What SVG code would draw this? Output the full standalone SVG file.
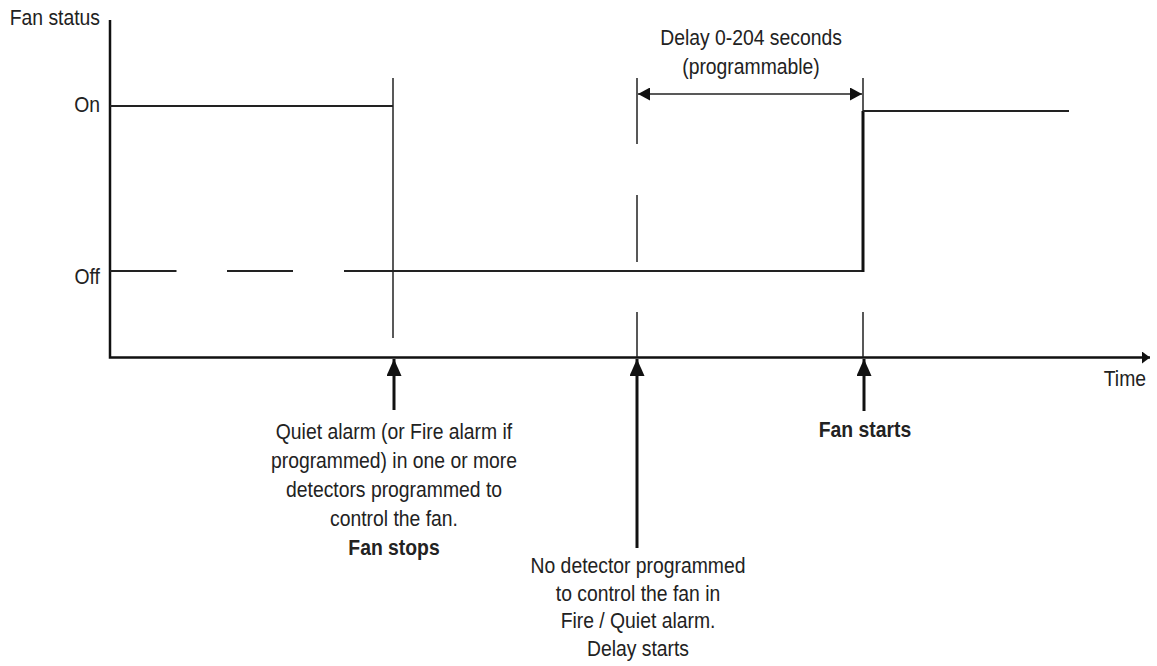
<svg xmlns="http://www.w3.org/2000/svg" width="1157" height="666" viewBox="0 0 1157 666">
<style>
text{font-family:"Liberation Sans",Arial,sans-serif;font-size:21.5px;fill:#222}
.b{font-weight:bold}
.mid{text-anchor:middle}
.end{text-anchor:end}
.ax{stroke:#111;stroke-width:2.5;fill:none}
.sig{stroke:#222;stroke-width:2;fill:none}
.mk{stroke:#222;stroke-width:1.5;fill:none}
.arr{stroke:#111;stroke-width:3;fill:none}
</style>
<defs>
<marker id="ah" viewBox="0 0 12 13" refX="12" refY="6.5" markerWidth="12" markerHeight="13" markerUnits="userSpaceOnUse" orient="auto-start-reverse">
<path d="M0,0 L12,6.5 L0,13 Z" fill="#111"/>
</marker>
<marker id="up" viewBox="0 0 17 15" refX="17" refY="7.5" markerWidth="17" markerHeight="15" markerUnits="userSpaceOnUse" orient="auto">
<path d="M0,0 L17,7.5 L0,15 Z" fill="#111"/>
</marker>
<marker id="xa" viewBox="0 0 8 12" refX="8" refY="6" markerWidth="8" markerHeight="12" markerUnits="userSpaceOnUse" orient="auto">
<path d="M0,0 L8,6 L0,12 Z" fill="#111"/>
</marker>
</defs>
<g id="axes">
<path class="ax" d="M110,20 V357.5 H1150" marker-end="url(#xa)"/>
<text id="lbl-fan-status" class="end" transform="translate(100 25) scale(.9 1)">Fan status</text>
<text id="lbl-on" class="end" transform="translate(100 112) scale(.9 1)">On</text>
<text id="lbl-off" class="end" transform="translate(100 284) scale(.9 1)">Off</text>
<text id="lbl-time" class="end" transform="translate(1146 386) scale(.9 1)">Time</text>
</g>
<g id="signal">
<path class="sig" d="M110,106 H393"/>
<path class="sig" d="M110,271 H176.5 M227,271 H293 M344,271 H393"/>
<path class="sig" d="M393,271 H863"/>
<path d="M863,272 V111" stroke="#111" stroke-width="3" fill="none"/>
<path class="sig" d="M863,111 H1069"/>
</g>
<g id="markers">
<path class="mk" d="M393,78 V338"/>
<path class="mk" d="M637,78 V144 M637,195 V262 M637,312 V357"/>
<path class="mk" d="M863,78 V111 M863,312 V357"/>
</g>
<g id="connectors">
<path class="mk" stroke-width="2.5" d="M638,94 H862" marker-start="url(#ah)" marker-end="url(#ah)"/>
<path class="arr" d="M394,410 V359" marker-end="url(#up)"/>
<path class="arr" d="M637,548 V359" marker-end="url(#up)"/>
<path class="arr" d="M864,411 V359" marker-end="url(#up)"/>
</g>
<g id="delay-label">
<text class="mid" transform="translate(751 45) scale(.9 1)">Delay 0-204 seconds</text>
<text class="mid" transform="translate(751 74) scale(.9 1)">(programmable)</text>
</g>
<g id="fan-stops-label">
<text class="mid" transform="translate(394 439) scale(.9 1)">Quiet alarm (or Fire alarm if</text>
<text class="mid" transform="translate(394 468) scale(.9 1)">programmed) in one or more</text>
<text class="mid" transform="translate(394 497) scale(.9 1)">detectors programmed to</text>
<text class="mid" transform="translate(394 526) scale(.9 1)">control the fan.</text>
<text class="mid b" transform="translate(394 555) scale(.9 1)">Fan stops</text>
</g>
<g id="delay-starts-label">
<text class="mid" transform="translate(638 573) scale(.9 1)">No detector programmed</text>
<text class="mid" transform="translate(638 601) scale(.9 1)">to control the fan in</text>
<text class="mid" transform="translate(638 628) scale(.9 1)">Fire / Quiet alarm.</text>
<text class="mid" transform="translate(638 656) scale(.9 1)">Delay starts</text>
</g>
<g id="fan-starts-label">
<text class="mid b" transform="translate(865 437) scale(.9 1)">Fan starts</text>
</g>
</svg>
